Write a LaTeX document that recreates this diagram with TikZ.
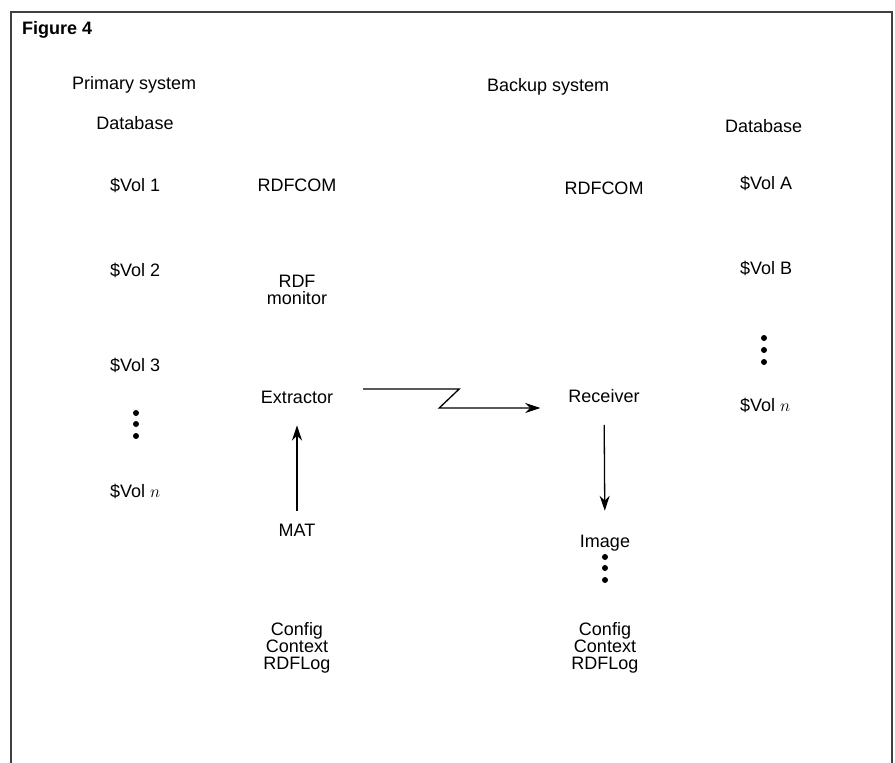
\documentclass[tikz,border=0pt]{standalone}
\usepackage{fontspec}
\setmainfont{Liberation Sans}
\usetikzlibrary{arrows.meta,positioning}
\tikzset{
  txt/.style={font=\fontsize{18}{17}\selectfont, inner sep=0pt, align=center},
  conn/.style={line width=1.3pt, -{Stealth[length=15pt,width=10pt]}},
}

\begin{document}
\begin{tikzpicture}[x=1pt,y=-1pt]
      \useasboundingbox (0,0) rectangle (895,763);
      \draw[line width=1.5pt, black!75] (11,763) -- (11,12) -- (892,12) -- (892,763);

      \node[txt, anchor=west] (fig) at (22,30) {\bfseries Figure 4};
      \node[txt, anchor=west] (prim) at (72,85) {Primary system};
      \node[txt, anchor=west] (back) at (487,87) {Backup system};

      % primary side
      \node[txt] (dbL) at (135,123) {Database};
      \node[txt, anchor=west] (v1) at (110,185) {\$Vol 1};
      \node[txt, anchor=west] (v2) at (110,270) {\$Vol 2};
      \node[txt, anchor=west] (v3) at (110,365) {\$Vol 3};
      \node[txt, anchor=west] (vn) at (110,491) {\$Vol $n$};
      \node[txt] (comL) at (297,185) {RDFCOM};
      \node[txt] (mon) at (297,290) {RDF\\monitor};
      \node[txt] (ext) at (297,397) {Extractor};
      \node[txt] (mat) at (297,530) {MAT};
      \node[txt] (cfgL) at (297,648) {Config\\Context\\RDFLog};

      % backup side
      \node[txt] (comR) at (604,188) {RDFCOM};
      \node[txt] (rcv) at (604,396) {Receiver};
      \node[txt] (img) at (605,543) {Image};
      \node[txt] (cfgR) at (605,648) {Config\\Context\\RDFLog};
      \node[txt, anchor=west] (dbR) at (725,126) {Database};
      \node[txt, anchor=west] (va) at (740,183) {\$Vol A};
      \node[txt, anchor=west] (vb) at (740,268) {\$Vol B};
      \node[txt, anchor=west] (vnR) at (740,405) {\$Vol $n$};

      \foreach \y in {413,424,436} \fill (136,\y) circle (3pt);
      \foreach \y in {338,350,362} \fill (764,\y) circle (3pt);
      \foreach \y in {557,568,580} \fill (605,\y) circle (3pt);

      \draw[conn, shorten <=13pt, shorten >=22pt] (mat) -- (ext);
      \draw[conn, shorten <=22pt, shorten >=24pt] (rcv) -- (img);
      \draw[conn] ([xshift=30pt,yshift=8pt]ext.east) -- ++(96,0) -- ++(-20,19)
        -- ([xshift=-28pt,yshift=-12pt]rcv.west);
    \end{tikzpicture}
\end{document}
